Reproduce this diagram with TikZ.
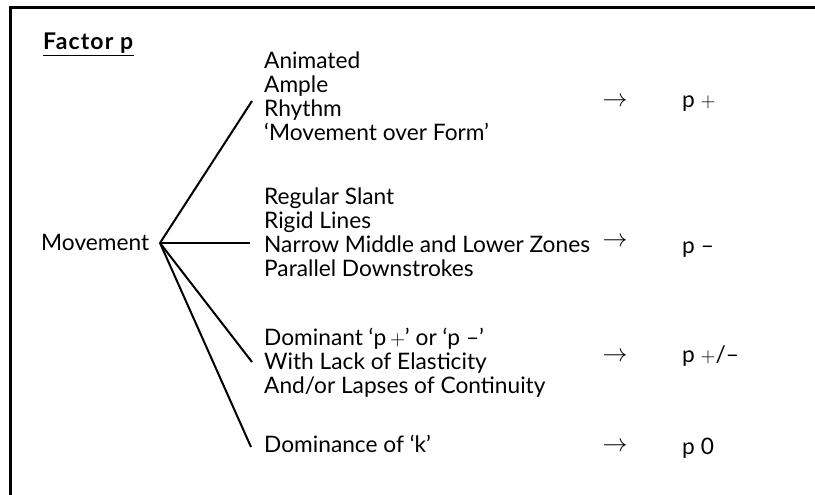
\documentclass[tikz,border=0pt]{standalone}
\usepackage{fontspec}
\setmainfont{Lato}
\begin{document}
\begin{tikzpicture}[x=1pt,y=-1pt,
  txt/.style={font=\fontsize{22.7}{23.7}\selectfont, inner sep=0pt, align=left, anchor=base west},
  res/.style={font=\fontsize{22.7}{23.7}\selectfont, inner sep=0pt, anchor=base west},
  arr/.style={font=\fontsize{25}{25}\selectfont, inner sep=0pt},
  conn/.style={line width=2pt},
  frame/.style={line width=2.6pt, line join=miter}]
\useasboundingbox (0,0) rectangle (815,495);
\draw[frame] (10.5,495) -- (10.5,7.5) -- (815,7.5);

\node[txt, font=\fontsize{23}{24}\selectfont\addfontfeature{LetterSpace=5}] (title) at (43,50) {\underline{\textbf{Factor p}}};
\node[txt] (mov) at (41,250) {Movement};
\coordinate (hub) at (160,243);

\coordinate (e1) at (252,101);
\coordinate (e2) at (250,243);
\coordinate (e3) at (252,362);
\coordinate (e4) at (251,447);
\draw[conn] (hub) -- (e1);
\draw[conn] (hub) -- (e2);
\draw[conn] (hub) -- (e3);
\draw[conn] (hub) -- (e4);

\node[txt] (b1) at (264,140) {Animated\\Ample\\Rhythm\\‘Movement over Form’};
\node[txt] (b2) at (264,276) {Regular Slant\\Rigid Lines\\Narrow Middle and Lower Zones\\Parallel Downstrokes};
\node[txt] (b3) at (264,393) {Dominant ‘p\,$+$’ or ‘p –’\\With Lack of Elasticity\\And/or Lapses of Continuity};
\node[txt] (b4) at (264,452) {Dominance of ‘k’};

\node[arr] (a1) at (615,102) {$\rightarrow$};
\node[arr] (a2) at (615,242) {$\rightarrow$};
\node[arr] (a3) at (615,357) {$\rightarrow$};
\node[arr] (a4) at (615,447) {$\rightarrow$};

\node[res] (r1) at (682,108) {p $+$};
\node[res] (r2) at (682,253) {p –};
\node[res] (r3) at (682,362) {p $+$/–};
\node[res] (r4) at (682,454) {p 0};
\end{tikzpicture}
\end{document}
